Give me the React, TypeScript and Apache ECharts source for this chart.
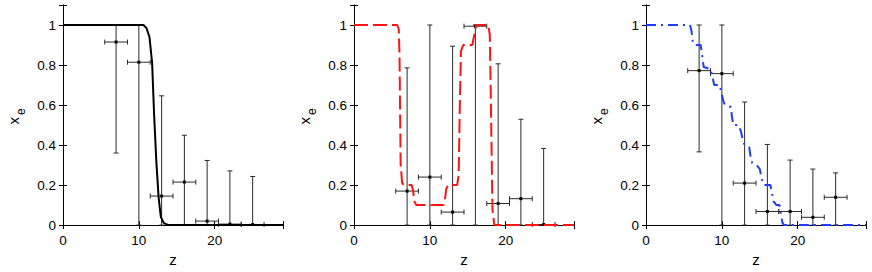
import React, { useEffect, useRef } from "react";
import * as echarts from "echarts";

// ---- data ----
const zCenters = [7, 10, 13, 16, 19, 22, 25];
const zHalfWidth = [1.5, 1.5, 1.5, 1.5, 1.5, 1.5, 1.5];

const p1Value = [0.915, 0.814, 0.145, 0.215, 0.02, 0.005, 0.003];
const p1Low = [0.36, 0, 0, 0, 0, 0, 0];
const p1High = [1.0, 1.0, 0.646, 0.449, 0.323, 0.271, 0.243];

const p2Value = [0.17, 0.24, 0.065, 0.994, 0.108, 0.132, 0.003];
const p2Low = [0, 0, 0, 0, 0, 0, 0];
const p2High = [0.786, 1.0, 0.894, 1.0, 0.806, 0.529, 0.383];

const p3Value = [0.772, 0.757, 0.21, 0.068, 0.068, 0.039, 0.139];
const p3Low = [0.366, 0, 0, 0, 0, 0, 0];
const p3High = [1.0, 1.0, 0.615, 0.403, 0.325, 0.28, 0.261];

const curve1Z = [0, 10.6, 11.0, 11.4, 11.75, 12.0, 12.3, 12.6, 12.9, 13.3, 13.9, 29];
const curve1X = [1, 1, 0.985, 0.94, 0.81, 0.56, 0.32, 0.14, 0.04, 0.01, 0, 0];

const curve2Z = [0, 5.7, 5.9, 6.0, 6.15, 6.35, 6.6, 7.6, 7.8, 7.95, 8.2, 11.8, 12.0, 12.15, 12.4, 13.6, 13.8, 13.95, 14.1, 14.4, 15.6, 15.85, 16.1, 17.7, 17.9, 18.05, 18.25, 18.5, 29];
const curve2X = [1, 1, 0.98, 0.85, 0.3, 0.21, 0.2, 0.2, 0.17, 0.12, 0.1, 0.1, 0.13, 0.18, 0.2, 0.2, 0.25, 0.6, 0.87, 0.9, 0.9, 0.95, 1.0, 1.0, 0.95, 0.6, 0.08, 0, 0];

const curve3Z = [0, 5.8, 6.0, 6.15, 6.4, 7.2, 7.4, 7.6, 8.5, 8.7, 9.0, 9.7, 9.95, 10.2, 10.4, 11.2, 11.3, 11.5, 12.2, 12.5, 12.8, 13.0, 13.6, 13.8, 14.0, 14.6, 15.0, 15.2, 15.5, 16.4, 16.6, 16.8, 17.2, 17.6, 17.8, 18.0, 18.2, 29];
const curve3X = [1, 1, 0.97, 0.92, 0.9, 0.9, 0.85, 0.79, 0.78, 0.75, 0.7, 0.7, 0.66, 0.62, 0.6, 0.59, 0.55, 0.5, 0.5, 0.47, 0.42, 0.4, 0.39, 0.34, 0.31, 0.3, 0.28, 0.24, 0.2, 0.2, 0.16, 0.12, 0.1, 0.1, 0.05, 0.01, 0, 0];

const xTickValues = [0, 10, 20];
const yTickValues = [0, 0.2, 0.4, 0.6, 0.8, 1];

const FONT = '"Liberation Sans", Arial, Helvetica, sans-serif';
const gridLefts = [63, 354, 646];
const GRID_TOP = 5;
const GRID_W = 220;
const GRID_H = 225;

function App() {
  const ref = useRef<HTMLDivElement>(null);

  useEffect(() => {
    if (!ref.current) return;
    const chart = echarts.init(ref.current, undefined, { renderer: "svg" });

    const panels = [
      { v: p1Value, lo: p1Low, hi: p1High, cz: curve1Z, cx: curve1X, color: "#000000", type: "solid" as any },
      { v: p2Value, lo: p2Low, hi: p2High, cz: curve2Z, cx: curve2X, color: "#ff1414", type: [14, 5] as any },
      { v: p3Value, lo: p3Low, hi: p3High, cz: curve3Z, cx: curve3X, color: "#1f3cff", type: [10, 5, 2, 5] as any },
    ];

    const grids: any[] = [];
    const xAxes: any[] = [];
    const yAxes: any[] = [];
    const series: any[] = [];
    const graphics: any[] = [];

    const xFmt = (val: number) => {
      const r = Math.round(val);
      return xTickValues.includes(r) && Math.abs(val - r) < 1e-6 ? String(r) : "";
    };
    const yFmt = (val: number) => {
      const r = Math.round(val * 10) / 10;
      return yTickValues.some((t) => Math.abs(t - val) < 1e-6) ? String(r) : "";
    };

    panels.forEach((p, i) => {
      grids.push({ left: gridLefts[i], top: GRID_TOP, width: GRID_W, height: GRID_H, containLabel: false });
      const axisLine = { show: true, lineStyle: { color: "#000", width: 1 } };
      const tick = { show: true, inside: true, length: 4, lineStyle: { color: "#000", width: 1 } };
      xAxes.push({
        gridIndex: i, type: "value", position: "bottom", min: 0, max: 29, interval: 10,
        axisLine, axisTick: tick, splitLine: { show: false },
        axisLabel: { color: "#000", fontSize: 13.5, fontFamily: FONT, margin: 8, formatter: xFmt },
        name: "z", nameLocation: "middle", nameGap: 24.5,
        nameTextStyle: { color: "#000", fontSize: 15, fontFamily: FONT },
      });
      xAxes.push({
        gridIndex: i, type: "value", position: "top", min: 0, max: 29, interval: 10,
        axisLine, axisTick: tick, splitLine: { show: false }, axisLabel: { show: false },
      });
      yAxes.push({
        gridIndex: i, type: "value", position: "left", min: 0, max: 1.1, interval: 0.2,
        axisLine, axisTick: tick, splitLine: { show: false },
        axisLabel: { color: "#000", fontSize: 13.5, fontFamily: FONT, margin: 7, formatter: yFmt },
      });
      yAxes.push({
        gridIndex: i, type: "value", position: "right", min: 0, max: 1.1, interval: 0.2,
        axisLine, axisTick: tick, splitLine: { show: false }, axisLabel: { show: false },
      });

      const ebData = zCenters.map((z, k) => [z, p.v[k], p.lo[k], p.hi[k], z - zHalfWidth[k], z + zHalfWidth[k]]);
      series.push({
        type: "custom",
        xAxisIndex: i * 2,
        yAxisIndex: i * 2,
        z: 3,
        encode: { x: [0, 4, 5], y: [1, 2, 3] },
        data: ebData,
        renderItem: (params: any, api: any) => {
          const z = api.value(0), y = api.value(1), lo = api.value(2), hi = api.value(3), xl = api.value(4), xh = api.value(5);
          const c = api.coord([z, y]);
          const pl = api.coord([z, lo]);
          const ph = api.coord([z, hi]);
          const pxl = api.coord([xl, y]);
          const pxh = api.coord([xh, y]);
          const st = { stroke: "#2a2a2a", lineWidth: 1 };
          const cap = 2.5;
          return {
            type: "group",
            children: [
              { type: "line", shape: { x1: pl[0], y1: pl[1], x2: ph[0], y2: ph[1] }, style: st },
              { type: "line", shape: { x1: ph[0] - cap, y1: ph[1], x2: ph[0] + cap, y2: ph[1] }, style: st },
              { type: "line", shape: { x1: pl[0] - cap, y1: pl[1], x2: pl[0] + cap, y2: pl[1] }, style: st },
              { type: "line", shape: { x1: pxl[0], y1: pxl[1], x2: pxh[0], y2: pxh[1] }, style: st },
              { type: "line", shape: { x1: pxl[0], y1: pxl[1] - cap, x2: pxl[0], y2: pxl[1] + cap }, style: st },
              { type: "line", shape: { x1: pxh[0], y1: pxh[1] - cap, x2: pxh[0], y2: pxh[1] + cap }, style: st },
              { type: "rect", shape: { x: c[0] - 1.5, y: c[1] - 1.5, width: 3, height: 3 }, style: { fill: "#000" } },
            ],
          };
        },
      });

      series.push({
        type: "line",
        xAxisIndex: i * 2,
        yAxisIndex: i * 2,
        z: 4,
        symbol: "none",
        smooth: false,
        data: p.cz.map((z, k) => [z, p.cx[k]]),
        lineStyle: { color: p.color, width: 2, type: p.type },
      });

      graphics.push({
        type: "group",
        x: gridLefts[i] - 50,
        y: 117,
        rotation: Math.PI / 2,
        children: [
          {
            type: "text", x: 0, y: 0,
            style: { text: "x", font: `15px ${FONT}`, fill: "#000", align: "right", verticalAlign: "middle", textAlign: "right", textVerticalAlign: "middle" },
          },
          {
            type: "text", x: 2, y: 8,
            style: { text: "e", font: `12px ${FONT}`, fill: "#000", align: "left", verticalAlign: "middle", textAlign: "left", textVerticalAlign: "middle" },
          },
        ],
      });
    });

    chart.setOption({
      animation: false,
      backgroundColor: "#ffffff",
      grid: grids,
      xAxis: xAxes,
      yAxis: yAxes,
      series,
      graphic: graphics,
    });

    return () => chart.dispose();
  }, []);

  return (
    <div
      ref={ref}
      style={{ position: "fixed", left: 0, top: 0, width: 872, height: 272, background: "#fff" }}
    />
  );
}

export default App;
